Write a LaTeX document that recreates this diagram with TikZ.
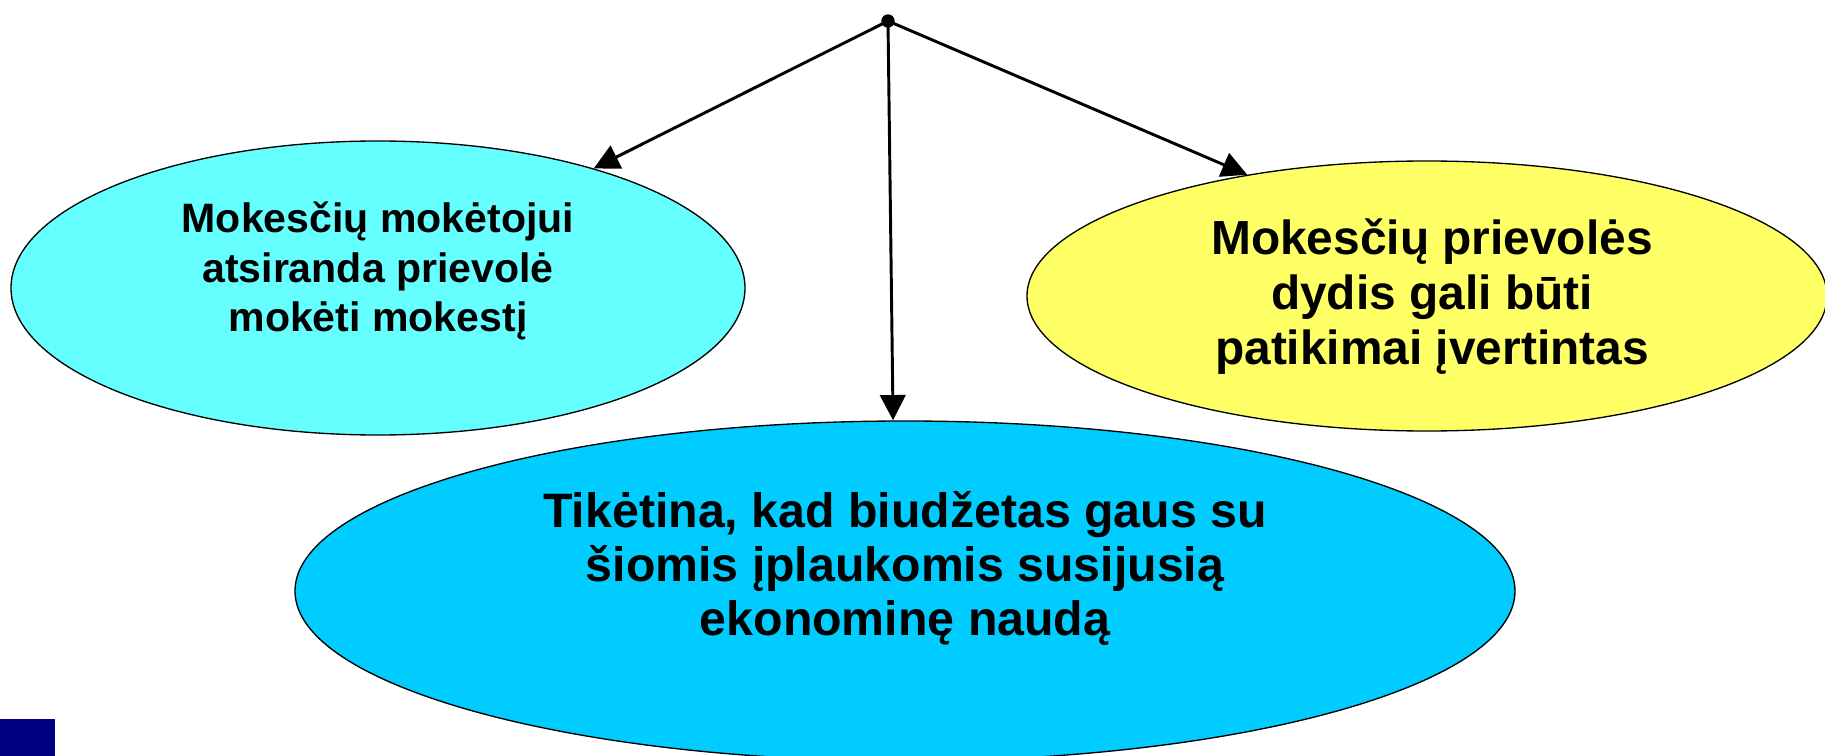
\documentclass[tikz,border=0pt]{standalone}
\usepackage{fontspec}
\setmainfont{Liberation Sans}
\usetikzlibrary{shapes.geometric,arrows.meta}
\definecolor{lcyan}{HTML}{66FFFF}
\definecolor{lyellow}{HTML}{FFFF66}
\definecolor{skyb}{HTML}{00CCFF}
\definecolor{navyb}{HTML}{000080}
\begin{document}
\begin{tikzpicture}[x=0.75pt,y=-0.75pt,
  oval/.style={ellipse,draw=black,line width=1pt,inner sep=0pt},
  lineL/.style={anchor=base,inner sep=0pt,font=\fontsize{30.8}{36}\selectfont\bfseries},
  lineR/.style={anchor=base,inner sep=0pt,font=\fontsize{35.9}{43}\selectfont\bfseries},
  lineB/.style={anchor=base,inner sep=0pt,font=\fontsize{36.2}{43}\selectfont\bfseries},
  conn/.style={line width=2.2pt,-{Triangle[length=19pt,width=19pt]}}]
\useasboundingbox (0,0) rectangle (1825,756);
\node[oval,fill=lcyan,minimum width=550.5pt,minimum height=220.5pt] (lefte) at (378,288) {};
\node[oval,fill=lyellow,minimum width=600pt,minimum height=202.5pt] (righte) at (1427,296) {};
\node[oval,fill=skyb,minimum width=915pt,minimum height=255pt] (bote) at (905,591) {};
\node[lineL] (l1) at (378,233) {Mokesčių mokėtojui};
\node[lineL] (l2) at (378,282) {atsiranda prievolė};
\node[lineL] (l3) at (378,331) {mokėti mokestį};
\node[lineR] (r1) at (1432,254) {Mokesčių prievolės};
\node[lineR] (r2) at (1432,309) {dydis gali būti};
\node[lineR] (r3) at (1432,364) {patikimai įvertintas};
\node[lineB] (b1) at (905,527) {Tikėtina, kad biudžetas gaus su};
\node[lineB] (b2) at (905,581) {šiomis įplaukomis susijusią};
\node[lineB] (b3) at (905,635) {ekonominę naudą};
\fill[navyb] (0,719) rectangle (55,756);
\node[circle,fill=black,inner sep=0pt,minimum size=10pt] (dot) at (888,21) {};
\draw[conn] (dot.center) -- (lefte.29.7);
\draw[conn] (dot.center) -- (righte.146.3);
\draw[conn] (dot.center) -- (bote.94.9);
\end{tikzpicture}
\end{document}
